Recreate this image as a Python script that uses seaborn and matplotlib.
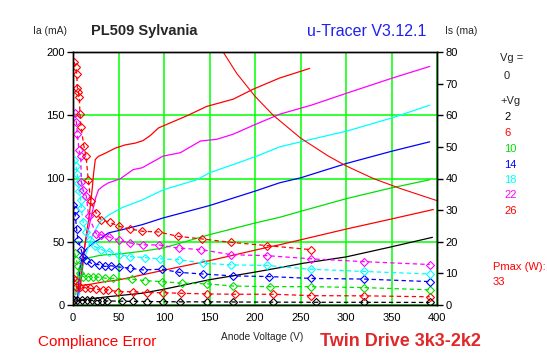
import matplotlib
matplotlib.use("Agg")
import matplotlib.pyplot as plt
import seaborn as sns

# ---------------- data ----------------
# Anode current Ia (mA, left axis) vs anode voltage (V)
v_ia_2 = [3, 10, 20, 39, 76, 100, 150, 200, 227, 253, 300, 350, 395]
ia_2 = [3, 4, 5, 6.6, 9.3, 12.5, 20, 26, 29.5, 33, 38, 46, 53.5]

v_ia_6 = [3, 6, 8, 10, 13.5, 20, 35.5, 50, 76, 103, 154, 216, 227, 300, 350, 396]
ia_6 = [12, 14, 15, 15.5, 15.9, 16.5, 18.5, 19.8, 23.8, 28, 35.7, 46, 47.6, 60, 68, 75.5]

v_ia_10 = [3, 4.4, 6, 8, 10, 13.5, 18.7, 28, 35.5, 50, 76, 99, 150, 200, 227, 250, 300, 350, 392]
ia_10 = [8, 19.8, 25, 30.4, 33, 36, 37.5, 39, 39.7, 40.2, 42.5, 45, 55.6, 64.8, 69.3, 74, 84, 92.6, 99]

v_ia_14 = [5, 6.5, 8, 10, 11.7, 14, 17.2, 22, 28, 39, 54, 76, 99, 150, 200, 227, 250, 301, 351, 392]
ia_14 = [5, 18, 31, 37, 41, 43.5, 46, 49, 51.6, 57, 59.5, 63.5, 68.8, 78.6, 90, 96.6, 100.5, 112, 121.7, 129]

v_ia_18 = [7, 9, 11, 14, 17, 19, 22, 30, 39, 54, 76, 99, 136, 150, 176, 202, 227, 262, 301, 351, 392]
ia_18 = [8, 20, 30, 40, 46, 50, 56, 66, 71, 77, 83, 91, 99, 104.5, 111, 117.7, 125, 131, 137.5, 148, 158]

v_ia_22 = [7, 9, 11, 14, 17, 20, 22.7, 25, 28, 33, 39, 52, 66, 76, 99, 118, 140, 158, 176, 198, 227, 262, 301, 351, 392]
ia_22 = [10, 25, 38, 50, 60, 70, 78, 85, 91, 94, 96.6, 99.8, 107, 108.5, 117.7, 120.4, 129.6, 131, 135, 142,
         150.8, 158, 167.5, 179.4, 188.6]

v_ia_26 = [7.7, 10, 12.5, 15.4, 17.2, 19, 21, 22.7, 24.5, 28, 35.5, 46.5, 57, 68.5, 77, 85, 94, 106, 125, 147,
           176, 198, 227, 260]
ia_26 = [12, 28, 45, 59.5, 67.5, 78, 91, 104.5, 115, 117.5, 120, 124, 126.5, 128, 130, 134, 140, 143.7, 149.5,
         157, 162.7, 170.6, 179.4, 187]

# Pmax = 33 W boundary (Ia, mA)
v_pmax = [165, 180, 200, 220, 250, 280, 300, 330, 360, 400]
ia_pmax = [200, 183, 165, 150, 132, 118, 110, 100, 92, 82.5]

# Screen current Is (mA, right axis)
v_is_2 = [1, 4, 9.5, 15, 20.5, 26, 31.5, 37, 53.5, 66, 81, 99, 118, 147, 176, 220, 267, 320, 392]
is_2 = [1.6, 1.6, 1.55, 1.5, 1.45, 1.4, 1.35, 1.3, 1.2, 1.15, 1.1, 1.05, 1.0, 1.0, 0.95, 0.9, 0.86, 0.85, 0.8]

v_is_6 = [0.5, 1.8, 3.6, 7.3, 12.8, 18.3, 25.6, 33, 38.5, 49.5, 66, 81, 99, 119, 147, 178, 220, 262, 320, 392]
is_6 = [8.5, 7.9, 5.8, 5.6, 5.5, 5.3, 5, 4.8, 4.8, 4.2, 4.2, 3.9, 3.9, 3.7, 3.5, 3.4, 3.4, 2.95, 2.9, 2.6]

v_is_10 = [1.8, 3.7, 5.5, 7.3, 11, 16.5, 22, 27.5, 34.8, 44, 64.5, 79, 97.5, 119.5, 147, 176, 216, 262, 320, 392]
is_10 = [16.4, 14.3, 12.2, 10, 9, 9, 9, 8.8, 8.5, 8.4, 8.2, 7.7, 7.4, 6.9, 6.7, 6, 5.8, 5.8, 5.5, 4.8]

v_is_14 = [0.5, 1.8, 2.6, 4, 5.5, 9, 11, 14.6, 20, 29, 34.8, 42, 51, 62.6, 77, 97.5, 117, 143, 176, 215, 262,
           320, 392]
is_14 = [31.7, 30, 28, 24, 20.6, 17.5, 15.3, 14.3, 13.2, 12.7, 12.2, 12.4, 12, 11.6, 11.1, 11.3, 10.3, 9.8, 9.2,
         9, 8.4, 8.2, 7.4]

v_is_18 = [1.1, 3.3, 4.8, 5.5, 6.6, 8.5, 9.2, 11, 14.6, 18.3, 23.8, 31, 40, 51, 62.6, 79, 95.6, 117, 143, 174,
           213, 262, 320, 392]
is_18 = [46, 44, 41.3, 38.6, 36, 33.3, 30.7, 26.4, 23, 20.6, 18.5, 17.5, 16.9, 15.9, 15.3, 15, 14.6, 14.3, 13.2,
         12.7, 12.5, 11.3, 10.6, 9.8]

v_is_22 = [1.8, 3.7, 4.8, 6.6, 8.5, 9.2, 11, 14.6, 17.2, 25.6, 31, 40, 51, 63, 77, 94, 116, 141, 174, 213, 262,
           320, 392]
is_22 = [60.6, 58, 54, 49, 47, 39, 36.5, 34.4, 28, 22.5, 22.2, 21.5, 20.4, 19.6, 19, 19, 18, 17.5, 15.9, 15.6,
         14.6, 13.7, 12.8]

v_is_26 = [1.1, 3.3, 4, 4.8, 5.9, 6.9, 7.7, 8.8, 12, 14.3, 16.8, 19.4, 25.6, 31, 40.7, 50.5, 62.6, 76.2, 93.8,
           115.7, 141.4, 173.6, 212.8, 261.5]
is_26 = [76.8, 75.2, 73.2, 68.6, 67.4, 65.8, 60.3, 56.3, 50.2, 47.1, 39.6, 32.8, 29, 27, 26.1, 24.9, 24.1, 23.3,
         23.1, 21.7, 20.9, 19.8, 18.8, 17.5]

grid_vals = [2, 6, 10, 14, 18, 22, 26]
grid_colors = ['#000000', '#ff0000', '#00e000', '#0000ff', '#00ffff', '#ff00ff', '#ff0000']

x_ticks = [0, 50, 100, 150, 200, 250, 300, 350, 400]
y_ticks = [0, 50, 100, 150, 200]
y2_ticks = [0, 10, 20, 30, 40, 50, 60, 70, 80]

# ---------------- figure ----------------
sns.set_style("white")
plt.rcParams['font.family'] = ['Liberation Sans', 'DejaVu Sans']

W, H = 547, 357
fig = plt.figure(figsize=(W / 100, H / 100), dpi=100)
fig.patch.set_facecolor('white')
L, R, T, B = 73, 437, 52, 305
ax = fig.add_axes([L / W, 1 - B / H, (R - L) / W, (B - T) / H])
ax2 = ax.twinx()

ax.set_xlim(0, 400)
ax.set_ylim(0, 200)
ax2.set_ylim(0, 80)
ax.set_xticks(x_ticks)
ax.set_yticks(y_ticks)
ax2.set_yticks(y2_ticks)
ax.grid(True, color='#00ff00', lw=1.1)
ax.set_axisbelow(True)
for a in (ax, ax2):
    for s in a.spines.values():
        s.set_color('black')
        s.set_linewidth(1.0)
ax.tick_params(direction='out', length=4, width=1, labelsize=8, pad=2, colors='black')
ax2.tick_params(direction='out', length=4, width=1, labelsize=8, pad=2, colors='black')
ax.set_xlabel('')
ax.set_ylabel('')
ax2.set_ylabel('')

solid = [(v_ia_2, ia_2), (v_ia_6, ia_6), (v_ia_10, ia_10), (v_ia_14, ia_14),
         (v_ia_18, ia_18), (v_ia_22, ia_22), (v_ia_26, ia_26)]
dashed = [(v_is_2, is_2), (v_is_6, is_6), (v_is_10, is_10), (v_is_14, is_14),
          (v_is_18, is_18), (v_is_22, is_22), (v_is_26, is_26)]

for (vx, vy), c in zip(solid, grid_colors):
    sns.lineplot(x=vx, y=vy, ax=ax, color=c, lw=0.9, estimator=None, sort=False, legend=False)

sns.lineplot(x=v_pmax, y=ia_pmax, ax=ax, color='#ff0000', lw=0.8, estimator=None, sort=False, legend=False)

for (vx, vy), c in zip(dashed, grid_colors):
    sns.lineplot(x=vx, y=vy, ax=ax2, color=c, lw=0.9, estimator=None, sort=False, legend=False,
                 linestyle=(0, (3.5, 2.5)), marker='D', markersize=4.2,
                 markerfacecolor='none', markeredgecolor=c, markeredgewidth=0.8)

ax.set_xlabel('')
ax.set_ylabel('')
ax2.set_ylabel('')


def px(x, y, s, **kw):
    fig.text(x / W, 1 - y / H, s, **kw)


px(50, 31, 'Ia (mA)', fontsize=7.5, ha='center', va='center')
px(144, 31, 'PL509 Sylvania', fontsize=10.5, fontweight='bold', ha='center', va='center')
px(367, 31, 'u-Tracer V3.12.1', fontsize=11.5, color='#2020ee', ha='center', va='center')
px(461, 31, 'Is (ma)', fontsize=7.5, ha='center', va='center')
px(262, 337, 'Anode Voltage (V)', fontsize=7.3, ha='center', va='center')
px(97, 342, 'Compliance Error', fontsize=11, color='#ff0000', ha='center', va='center')
px(400, 341, 'Twin Drive 3k3-2k2', fontsize=13, fontweight='bold', color='#e0282a', ha='center', va='center')

px(500, 58, 'Vg =', fontsize=8, ha='left', va='center')
px(504, 76, '0', fontsize=8, ha='left', va='center')
px(500, 101, '+Vg', fontsize=8, ha='left', va='center')
label_y = [117, 133, 149, 165, 180, 195, 211]
for gv, c, yy in zip(grid_vals, grid_colors, label_y):
    px(504, yy, str(gv), fontsize=8, color=c, ha='left', va='center')
px(493, 267, 'Pmax (W):', fontsize=8, color='#ff0000', ha='left', va='center')
px(493, 282, '33', fontsize=8, color='#ff0000', ha='left', va='center')

fig.savefig('out.png', dpi=100, facecolor='white')
